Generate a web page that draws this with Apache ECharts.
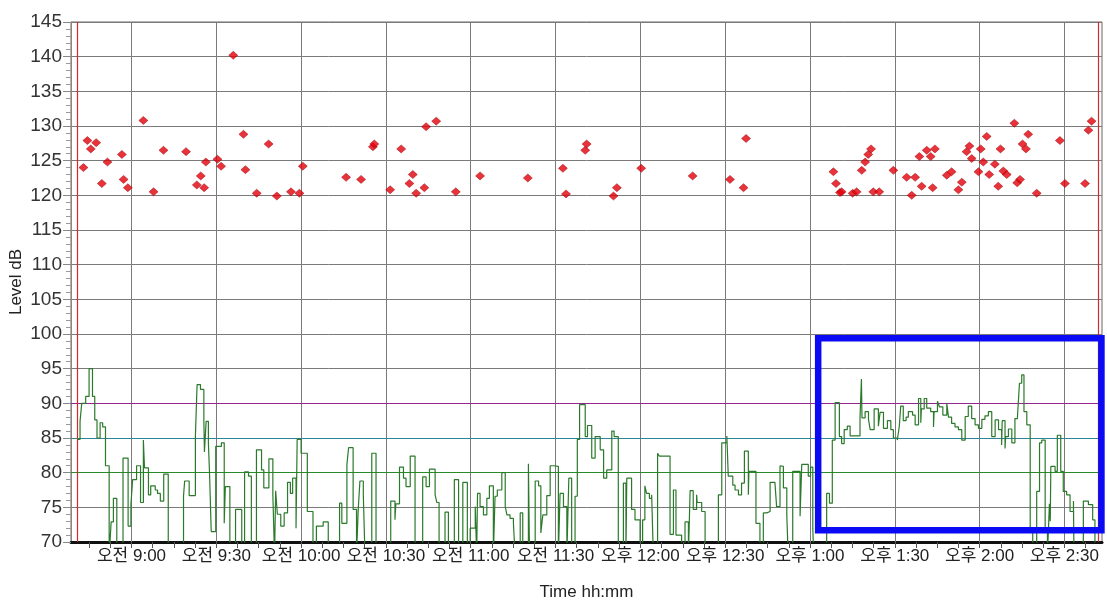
<!DOCTYPE html>
<html><head><meta charset="utf-8">
<script src="https://cdn.jsdelivr.net/npm/echarts@6/dist/echarts.min.js"></script>
<style>html,body{margin:0;padding:0;background:#fff}#c{width:1107px;height:604px}</style>
</head><body><div id="c"></div>
<script>
// Time in minutes since midnight; level in dB
const greenTime = [520.8,521.8,522.4,523.8,525.0,526.2,527.0,527.8,528.9,529.8,530.8,532.1,532.8,533.6,534.8,537.0,538.8,539.8,540.4,541.8,543.2,544.2,544.6,546.0,546.8,548.4,549.2,550.2,551.4,553.0,558.4,558.8,560.4,562.6,563.2,564.4,565.6,565.8,566.4,567.2,567.6,568.2,569.8,571.8,572.8,573.2,574.8,576.8,579.0,580.0,581.4,582.4,584.2,586.0,586.8,588.6,590.0,590.6,591.0,591.6,592.8,594.0,595.2,596.2,597.0,598.2,598.6,600.0,602.2,604.2,605.4,607.8,609.6,613.6,614.4,616.2,616.8,618.4,619.6,620.2,620.8,622.0,622.6,625.0,626.5,631.7,633.2,633.5,634.8,636.2,637.1,638.6,640.3,643.0,644.2,645.4,647.4,648.0,648.8,650.9,652.1,654.2,655.7,657.2,658.8,659.8,661.6,662.1,662.4,663.3,664.5,665.7,666.6,668.0,668.6,669.4,671.0,672.2,672.8,673.9,675.1,675.7,677.5,678.4,680.4,680.8,682.8,684.0,684.8,685.5,686.9,688.1,689.3,691.0,691.6,692.8,694.0,694.7,695.7,696.9,697.7,698.5,700.5,701.3,702.8,704.0,705.8,707.0,708.1,709.9,710.7,712.2,714.0,714.9,715.2,716.9,718.1,719.9,720.8,721.6,722.2,723.2,724.0,724.6,726.1,726.7,730.5,731.7,732.6,734.6,735.8,737.0,737.6,738.7,739.9,740.1,741.7,742.9,747.6,748.8,750.6,751.1,752.7,753.5,754.7,755.8,756.8,758.2,758.4,760.9,762.3,763.5,764.7,765.9,767.6,768.2,769.4,770.0,770.6,771.8,772.3,773.9,776.5,777.1,779.4,780.2,781.0,781.3,785.9,786.9,787.9,788.9,790.4,791.2,792.1,793.2,794.2,797.7,798.2,798.4,799.5,800.7,801.3,802.7,804.2,804.8,806.0,807.4,808.6,809.5,810.9,811.6,812.1,813.0,814.0,814.8,816.3,817.2,818.4,819.2,819.4,820.4,821.3,822.7,823.7,823.9,825.1,825.8,827.0,828.4,829.0,830.1,831.3,832.5,833.7,834.9,836.0,837.2,838.4,839.6,840.8,841.9,843.1,844.3,845.5,846.7,847.8,848.0,849.0,849.2,850.2,851.4,852.5,853.4,854.1,854.9,855.7,856.7,857.9,858.8,860.2,861.2,862.0,863.2,864.0,864.7,865.0,865.2,866.7,867.5,868.7,869.6,870.8,872.0,873.2,873.4,876.7,878.5,880.0,880.8,881.8];
const greenLevel = [84.8,87.4,90,91,95,91,87.6,85,87.2,86.6,81,68,72.9,76.3,68,82.1,72.3,75.4,79,81,75.7,84.7,80.7,76.8,78.1,77.5,77,75.9,79.8,68,76.6,78.8,76.7,85.2,92.7,92,87.4,83,87.4,84.3,80,71.5,83.8,84.3,72.7,78,68,74.7,68,80.1,79.5,68,83.3,80.4,77.8,82,76.8,68,77.4,74,72.3,74.2,78.6,77,79.2,72,84.8,82.8,74.4,68,72.3,72.9,68,75.6,72.7,81.2,83.6,74.7,68,74.7,78.8,76.8,68,82.8,68,75.9,73.2,75.5,80.8,79.2,78,82.4,68,79.4,78,80.5,76.8,75.7,68,74.3,68,79,68,78.6,68,72,75.1,68,77,75.1,73.9,76.3,78.1,68,76.6,77.5,80,75.1,73.9,73.4,72.7,68,74.2,68,81.3,68,78.8,78.1,71.3,73.9,76.7,81,80.9,68,77,75.1,68,79.2,68,76.6,84.8,89.8,85.2,86.8,82.1,85.2,83.3,79.2,80.4,86,85.2,68,78.5,68,79.2,74.7,73.2,68,73.2,78.1,77,76.3,76.8,68,82.8,82.4,71.1,77.5,71,68,72.9,68,77.4,74.7,76.8,75.7,74.4,68,76.8,84.3,85.3,79.5,78.2,77.5,76.8,78.5,83.1,76.8,80.2,72.7,68,74.2,74.4,78.6,78.8,75.1,81,80.9,77.8,73.9,68,80.2,73.7,81.2,79.5,80.8,72,68,77,75.6,84.7,90.1,85.2,84.2,86.2,86.7,85.3,87.9,93.5,87.9,88.8,87.7,86.2,89.2,86.7,88.7,86.4,87.5,86.2,85.0,84.7,86.7,89.6,87.5,88.0,88.8,88.3,86.9,90.7,87.2,89.2,90.7,89.3,88.8,86.6,88.8,90.3,89.5,88.3,90.0,88.0,87.1,86.6,86.2,84.7,88.1,89.6,87.8,86.9,86.4,87.7,88.2,88.8,85.2,87.6,86.2,84.0,87.5,83.5,85.2,86.3,84.3,87.8,88.1,92.9,94.1,88.8,86.9,71.8,68,77.3,84.3,84.7,71.8,68,75.5,73,80.9,80.2,85.4,80.2,77.3,76.8,74.4,75.9,68,75.9,75.4,73.2,68,68];

const redTime = [523.0,524.4,525.6,527.5,529.5,531.5,536.6,537.2,538.7,544.2,547.8,551.3,559.3,563.1,564.5,565.7,566.3,570.4,571.7,576.0,579.6,580.3,584.3,588.5,591.4,596.4,599.4,600.6,615.9,621.2,625.4,625.9,631.5,635.4,638.3,639.5,640.7,643.6,644.2,647.8,654.7,663.3,680.2,692.6,693.7,700.5,701.0,710.5,711.7,720.3,738.5,751.7,756.5,757.4,788.3,789.2,790.6,791.2,795.1,796.5,798.3,799.5,800.6,801.6,802.4,804.5,809.5,814.2,816.0,817.2,818.7,819.5,821.3,822.7,823.4,824.2,828.4,830.1,832.5,833.7,835.4,836.4,837.2,839.6,840.4,841.3,842.5,843.4,845.4,846.6,847.4,848.4,849.6,852.3,853.3,854.3,855.2,856.4,857.2,860.2,868.4,870.2,877.3,878.5,879.6];
const redLevel = [124.0,127.9,126.7,127.6,121.7,124.8,125.9,122.3,121.1,130.8,120.5,126.5,126.3,121.5,122.8,121.1,124.8,125.2,124.2,140.2,128.8,123.7,120.3,127.4,119.9,120.5,120.3,124.2,122.6,122.3,127.0,127.4,120.8,126.7,121.7,123.0,120.3,121.1,129.9,130.7,120.5,122.8,122.5,123.9,120.2,126.5,127.4,119.9,121.1,123.9,122.8,122.3,121.1,128.2,123.4,121.7,120.4,120.5,120.3,120.5,123.6,124.8,125.9,126.7,120.5,120.5,123.6,122.6,120.0,122.6,125.6,121.3,126.5,125.6,121.1,126.7,122.9,123.4,120.8,121.9,126.3,127.1,125.3,123.4,126.7,124.8,128.5,123.0,124.5,121.3,126.7,123.5,123.0,130.4,121.8,122.3,127.4,126.7,128.8,120.3,127.9,121.7,121.7,129.4,130.7];

const xTickTimes = [540,570,600,630,660,690,720,750,780,810,840,870];
const xTickLabels = ['오전 9:00','오전 9:30','오전 10:00','오전 10:30','오전 11:00','오전 11:30','오후 12:00','오후 12:30','오후 1:00','오후 1:30','오후 2:00','오후 2:30'];
const refLevels = [80, 85, 90];
const refColors = ['#2a8a2a', '#2f8598', '#922592'];
const recordBounds = [520.8, 881.8];
const boxCorner1 = [782.9, 99.4];
const boxCorner2 = [883.1, 71.7];

const X_MIN = 518.6, X_MAX = 883.3;
const minorTicks = [];
for (let t = 525; t < X_MAX; t += 7.5) minorTicks.push(t);

const FONT = '"Liberation Sans",Arial,"Noto Sans CJK KR",sans-serif';

const chart = echarts.init(document.getElementById('c'), null, {renderer: 'canvas'});
chart.setOption({
  animation: false,
  backgroundColor: '#ffffff',
  grid: {left: 71, right: 5, top: 22, bottom: 62, outerBoundsMode: 'none', containLabel: false,
    show: true, borderColor: '#666', borderWidth: 1, backgroundColor: '#fff'},
  xAxis: {
    type: 'value', min: X_MIN, max: X_MAX,
    axisLine: {show: true, onZero: false, lineStyle: {color: '#111', width: 3}},
    axisTick: {show: true, customValues: minorTicks, length: 6, lineStyle: {color: '#555'}},
    axisLabel: {customValues: xTickTimes, margin: 6, fontSize: 17, color: '#222', fontFamily: FONT,
      formatter: v => { const i = xTickTimes.findIndex(t => Math.abs(t - v) < 0.01); return i >= 0 ? xTickLabels[i] : ''; }},
    splitLine: {show: false},
    name: 'Time hh:mm', nameLocation: 'middle', nameGap: 42, nameMoveOverlap: false,
    nameTextStyle: {fontSize: 17, color: '#222', fontFamily: FONT}
  },
  yAxis: {
    type: 'value', min: 70, max: 145, interval: 5,
    axisLine: {show: true, lineStyle: {color: '#888'}},
    axisTick: {show: true, length: 8, lineStyle: {color: '#888'}},
    minorTick: {show: true, splitNumber: 5, length: 5, lineStyle: {color: '#999'}},
    axisLabel: {fontSize: 19, color: '#333', margin: 9, fontFamily: FONT},
    splitLine: {show: true, lineStyle: {color: '#7a7a7a', width: 1}},
    name: 'Level dB', nameLocation: 'middle', nameGap: 46, nameMoveOverlap: false,
    nameTextStyle: {fontSize: 17, color: '#222', fontFamily: FONT}
  },
  series: [
    {
      type: 'scatter', data: [], silent: true,
      markLine: {
        silent: true, symbol: ['none', 'none'], label: {show: false}, z: 1,
        lineStyle: {type: 'solid', width: 1, color: '#7a7a7a'},
        data: [
          ...xTickTimes.map(t => ({xAxis: t})),
          ...refLevels.map((v, i) => ({yAxis: v, lineStyle: {color: refColors[i], width: 1.2}})),
          ...recordBounds.map(t => ({xAxis: t, lineStyle: {color: '#d42a2a', width: 1.2}}))
        ]
      }
    },
    {
      type: 'line', step: 'end', symbol: 'none', z: 3, clip: true,
      data: greenTime.map((t, i) => [t, greenLevel[i]]),
      lineStyle: {color: '#2b7a2b', width: 1.2}
    },
    {
      type: 'scatter', z: 4, symbol: 'diamond', symbolSize: [9, 8],
      data: redTime.map((t, i) => [t, redLevel[i]]),
      itemStyle: {color: '#e3000b', borderColor: '#9a0000', borderWidth: 0.6}
    },
    {
      type: 'line', data: [], clip: false, silent: true,
      markArea: {
        silent: true, z: 10,
        itemStyle: {color: 'rgba(0,0,0,0)', borderColor: '#0a0af5', borderWidth: 6.5},
        data: [[{coord: boxCorner1}, {coord: boxCorner2}]]
      }
    }
  ]
});
</script>
</body></html>
